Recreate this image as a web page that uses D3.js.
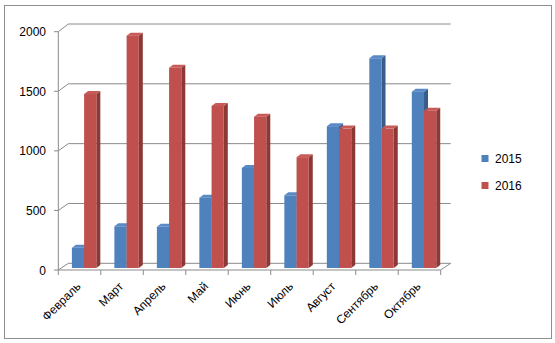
<!DOCTYPE html>
<html><head><meta charset="utf-8">
<script src="https://cdn.jsdelivr.net/npm/d3@7"></script>
<style>body{margin:0;background:#fff}svg{display:block}text{font-family:"Liberation Sans",Arial,sans-serif}</style>
</head><body><svg id="c" width="555" height="343"></svg>
<script>
const months = ["Февраль","Март","Апрель","Май","Июнь","Июль","Август","Сентябрь","Октябрь"];
const seriesNames = ["2015","2016"];
const values2015 = [170,350,345,590,840,610,1190,1760,1480];
const values2016 = [1460,1950,1680,1360,1270,930,1170,1170,1320];
const yTicks = [0,500,1000,1500,2000];
const colors = {"2015":{front:"#4F81BD",side:"#385D8A",top:"#5A8AC6"},"2016":{front:"#C0504D",side:"#8C3836",top:"#C85A57"}};

const svg = d3.select("#c");
// outer border
svg.append("rect").attr("x",4.5).attr("y",5.5).attr("width",547).attr("height",333).attr("fill","#fff").attr("stroke","#8e8e8e").attr("stroke-width",1);

const DX = 10, DY = -7.5;          // depth offset of back wall
const x = d3.scaleBand().domain(months).range([58.3, 440.7]);
const yFront = d3.scaleLinear().domain([0,2000]).range([270, 31.7]);
const yBack = d3.scaleLinear().domain([0,2000]).range([263.3, 24]);
const bw = x.bandwidth();
const xs = d3.scaleBand().domain(seriesNames).range([bw*0.29+1, bw*0.865+1]);
const bd = 0.27; // bar front depth fraction
const yBar = d3.scaleLinear().domain([0,2000]).range([270 + DY*bd, 31.7 + DY*bd]);
const sdx = 4, sdy = -3;

const g = svg.append("g");
const gridColor = "#8a8a8a";
// back gridlines and left wall diagonals
yTicks.forEach(t => {
  g.append("line").attr("x1",58.3+DX).attr("x2",440.7+DX).attr("y1",yBack(t)).attr("y2",yBack(t)).attr("stroke",gridColor);
  g.append("line").attr("x1",58.3).attr("x2",58.3+DX).attr("y1",yFront(t)).attr("y2",yBack(t)).attr("stroke",gridColor);
});
// floor front edge + right diagonal
g.append("line").attr("x1",58.3).attr("x2",440.7).attr("y1",yFront(0)).attr("y2",yFront(0)).attr("stroke",gridColor);
g.append("line").attr("x1",440.7).attr("x2",440.7+DX).attr("y1",yFront(0)).attr("y2",yBack(0)).attr("stroke",gridColor);
// y axis
g.append("line").attr("x1",58.3).attr("x2",58.3).attr("y1",yFront(2000)).attr("y2",yFront(0)).attr("stroke",gridColor);
yTicks.forEach(t => {
  g.append("line").attr("x1",54).attr("x2",58.3).attr("y1",yFront(t)).attr("y2",yFront(t)).attr("stroke",gridColor);
  g.append("text").attr("x",46).attr("y",yFront(t)+4.5).attr("text-anchor","end").attr("font-size",12).attr("fill","#000").text(t);
});
// category ticks
x.domain().concat(["_end"]).forEach((m,i) => {
  const xx = i < months.length ? x(m) : 440.7;
  g.append("line").attr("x1",xx).attr("x2",xx).attr("y1",yFront(0)).attr("y2",yFront(0)+5).attr("stroke",gridColor);
});
// category labels
months.forEach(m => {
  const cx = x(m) + bw/2 + 2, cy = yFront(0) + 17;
  g.append("text").attr("transform",`translate(${cx},${cy}) rotate(-45)`).attr("text-anchor","end").attr("font-size",12).attr("fill","#000").text(m);
});

// bars
const data = [];
months.forEach((m,i) => {
  data.push({m, s:"2015", v:values2015[i]});
  data.push({m, s:"2016", v:values2016[i]});
});
const bars = g.selectAll("g.bar").data(data).join("g").attr("class","bar");
bars.each(function(d){
  const sel = d3.select(this);
  const x0 = x(d.m) + xs(d.s) + DX*bd*0.1, x1 = x0 + xs.bandwidth();
  const yt = yBar(d.v), yb = yBar(0);
  const c = colors[d.s];
  sel.append("path").attr("d",`M${x1},${yt}L${x1+sdx},${yt+sdy}L${x1+sdx},${yb+sdy}L${x1},${yb}Z`).attr("fill",c.side);
  sel.append("path").attr("d",`M${x0},${yt}L${x0+sdx},${yt+sdy}L${x1+sdx},${yt+sdy}L${x1},${yt}Z`).attr("fill",c.top);
  sel.append("rect").attr("x",x0).attr("y",yt).attr("width",x1-x0).attr("height",yb-yt).attr("fill",c.front);
});

// legend
const leg = svg.append("g");
seriesNames.forEach((s,i) => {
  const ly = 158.5 + i*27;
  leg.append("rect").attr("x",481.5).attr("y",ly-3.5).attr("width",7).attr("height",7).attr("fill",colors[s].front);
  leg.append("text").attr("x",495).attr("y",ly+4.5).attr("font-size",12).attr("fill","#000").text(s);
});
</script></body></html>
